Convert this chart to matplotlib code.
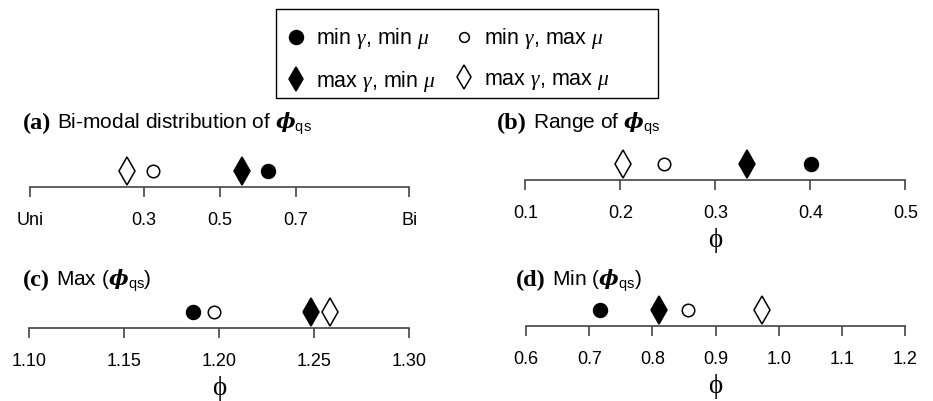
import matplotlib
matplotlib.use("Agg")
import matplotlib.pyplot as plt
from matplotlib.lines import Line2D
from matplotlib.patches import Rectangle

plt.rcParams['font.family'] = ['Liberation Sans', 'DejaVu Sans']
plt.rcParams['mathtext.fontset'] = 'custom'
plt.rcParams['mathtext.rm'] = 'Liberation Sans'
plt.rcParams['mathtext.it'] = 'Liberation Serif:italic'
plt.rcParams['mathtext.bf'] = 'Liberation Serif:bold'
plt.rcParams['mathtext.bfit'] = 'DejaVu Serif:bold:italic'

# data: order = min g/min m, min g/max m, max g/min m, max g/max m
series = ["min $\\gamma$, min $\\mu$", "min $\\gamma$, max $\\mu$",
          "max $\\gamma$, min $\\mu$", "max $\\gamma$, max $\\mu$"]
bimodal = [0.628, 0.323, 0.559, 0.255]
phi_range = [0.401, 0.246, 0.333, 0.203]
phi_max = [1.186, 1.197, 1.248, 1.258]
phi_min = [0.717, 0.857, 0.810, 0.974]

ticks_a = [0, 0.3, 0.5, 0.7, 1.0]
labels_a = ["Uni", "0.3", "0.5", "0.7", "Bi"]
ticks_b = [0.1, 0.2, 0.3, 0.4, 0.5]
ticks_c = [1.10, 1.15, 1.20, 1.25, 1.30]
ticks_d = [0.6, 0.7, 0.8, 0.9, 1.0, 1.1, 1.2]

panel_tags = ["(a)", "(b)", "(c)", "(d)"]
panel_titles = [r"Bi-modal distribution of $\mathbfit{\phi}_{\mathrm{qs}}$",
                r"Range of $\mathbfit{\phi}_{\mathrm{qs}}$",
                r"Max ($\mathbfit{\phi}_{\mathrm{qs}}$)",
                r"Min ($\mathbfit{\phi}_{\mathrm{qs}}$)"]

markers = ['o', 'o', 'd', 'd']
filled = [True, False, True, False]
sizes = [10, 9, 14, 14]
leg_sizes = [10, 7, 12.5, 12.5]

W, H = 933, 401
fig = plt.figure(figsize=(W / 100, H / 100), dpi=100)


def px_axes(x0, x1, axis_y, h=32):
    # pixel coords measured from the top-left corner
    return fig.add_axes([x0 / W, (H - axis_y) / H, (x1 - x0) / W, h / H])


def panel(ax, vals, ticks, labels, xlabel=None):
    for v, m, f, s in zip(vals, markers, filled, sizes):
        ax.plot(v, 0.5, marker=m, ms=s, mew=1.1, color='black',
                mfc='black' if f else 'white', linestyle='none', clip_on=False)
    ax.set_xlim(ticks[0], ticks[-1])
    ax.set_ylim(0, 1)
    for s in ['top', 'left', 'right']:
        ax.spines[s].set_visible(False)
    ax.spines['bottom'].set_color('#444444')
    ax.spines['bottom'].set_linewidth(1.2)
    ax.set_yticks([])
    ax.set_xticks(ticks)
    ax.set_xticklabels(labels)
    ax.tick_params(axis='x', length=7, width=1.2, color='#444444', pad=11,
                   labelsize=13)
    ax.patch.set_visible(False)
    if xlabel:
        ax.set_xlabel(xlabel, family=['Liberation Serif', 'DejaVu Serif'],
                      fontsize=19.5, labelpad=4)


ax_a = px_axes(30, 409.3, 187)
panel(ax_a, bimodal, ticks_a, labels_a)
ax_b = px_axes(525.3, 905.3, 180)
panel(ax_b, phi_range, ticks_b, [f"{t:.1f}" for t in ticks_b], "ϕ")
ax_c = px_axes(29.3, 409.3, 328)
panel(ax_c, phi_max, ticks_c, [f"{t:.2f}" for t in ticks_c], "ϕ")
ax_d = px_axes(526, 905.3, 326)
panel(ax_d, phi_min, ticks_d, [f"{t:.1f}" for t in ticks_d], "ϕ")

# panel titles: bold serif tag followed by sans text
renderer = fig.canvas.get_renderer()
title_pos = [(23, 129), (497, 129), (23, 286), (516, 286)]  # baseline, px
for tag, title, (x, y) in zip(panel_tags, panel_titles, title_pos):
    t = fig.text(x / W, 1 - y / H, tag, family='Liberation Serif',
                 weight='bold', fontsize=17.5, va='baseline', ha='left')
    bb = t.get_window_extent(renderer)
    fig.text((bb.x1 + 6) / W, 1 - y / H, title, fontsize=15,
             va='baseline', ha='left')

# legend box
fig.add_artist(Rectangle((276 / W, 1 - 98 / H), (658 - 276) / W, 89 / H,
                         transform=fig.transFigure, fill=False,
                         edgecolor='black', linewidth=1.0))

# ncol=2 fills column-wise
order = [0, 2, 1, 3]
handles = [Line2D([], [], marker=markers[i], ms=leg_sizes[i], mew=1.1,
                  color='black', mfc='black' if filled[i] else 'white',
                  linestyle='none')
           for i in order]
leg = fig.legend(handles, [series[i] for i in order], ncol=2,
                 loc='center left', bbox_to_anchor=(285 / W, 1 - 60 / H),
                 fontsize=15.5, frameon=False, borderpad=0, borderaxespad=0,
                 handlelength=1.0, handletextpad=0.45, columnspacing=0.8,
                 labelspacing=0.8)

fig.savefig("out.png", dpi=100)
